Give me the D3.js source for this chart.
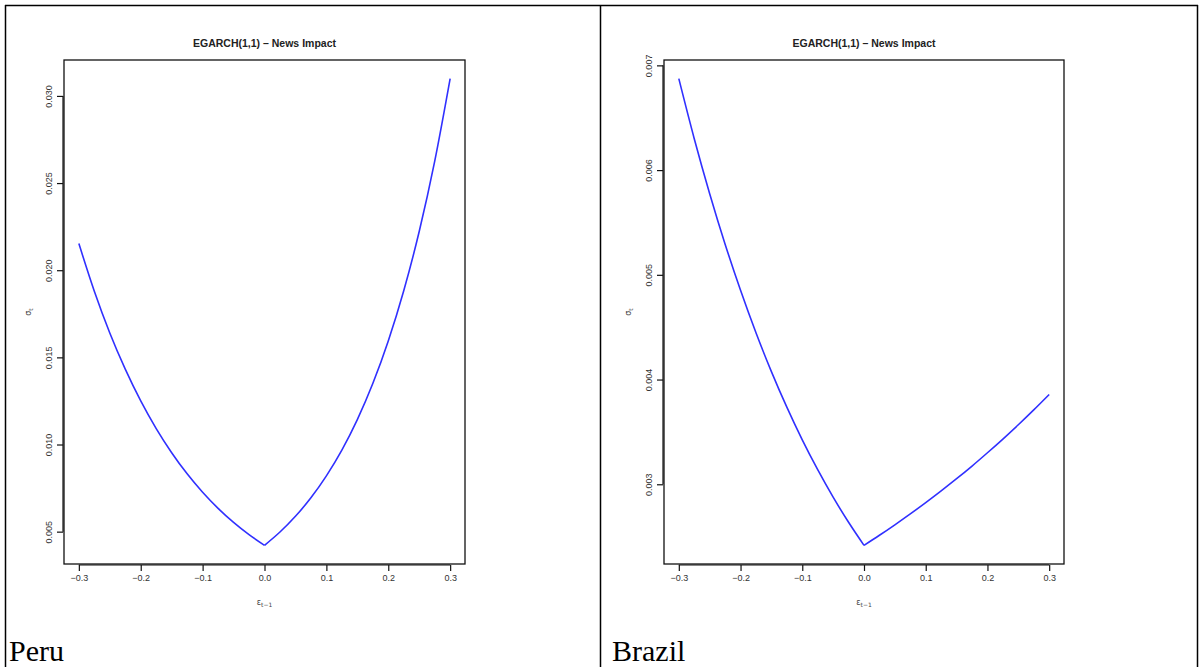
<!DOCTYPE html>
<html>
<head>
<meta charset="utf-8">
<script src="https://cdn.jsdelivr.net/npm/d3@7"></script>
<style>
  html, body { margin: 0; padding: 0; background: #fff; }
  svg { display: block; }
</style>
</head>
<body>
<svg id="chart" width="1203" height="667"></svg>
<script>
// ---- data ----
const shockGrid = [-0.3, -0.275, -0.25, -0.225, -0.2, -0.175, -0.15, -0.125, -0.1, -0.075, -0.05, -0.025, 0,
                   0.025, 0.05, 0.075, 0.1, 0.125, 0.15, 0.175, 0.2, 0.225, 0.25, 0.275, 0.3];
const peruSigma = [0.02153, 0.018795, 0.01640, 0.014322, 0.01250, 0.010913, 0.00953, 0.008316, 0.00726, 0.006337, 0.00553, 0.004829, 0.004215,
                   0.004978, 0.00588, 0.006941, 0.00820, 0.009678, 0.01143, 0.013496, 0.01594, 0.01882, 0.02222, 0.02624, 0.03099];
const brazilSigma = [0.006873, 0.006300, 0.005775, 0.005293, 0.004852, 0.004447, 0.004076, 0.003736, 0.003424, 0.003139, 0.002877, 0.002637, 0.002417,
                     0.002513, 0.002613, 0.002717, 0.002825, 0.002937, 0.003053, 0.003174, 0.003301, 0.003432, 0.003568, 0.003710, 0.003857];
const xTickValues = [-0.3, -0.2, -0.1, 0.0, 0.1, 0.2, 0.3];
const peruYTicks = [0.005, 0.010, 0.015, 0.020, 0.025, 0.030];
const brazilYTicks = [0.003, 0.004, 0.005, 0.006, 0.007];
const chartTitle = "EGARCH(1,1) \u2013 News Impact";
const panelNames = ["Peru", "Brazil"];

const svg = d3.select("#chart");

// table frame
const frame = svg.append("g").attr("stroke", "#000").attr("stroke-width", 1.5).attr("fill", "none");
frame.append("line").attr("x1", 5).attr("y1", 5.5).attr("x2", 1198).attr("y2", 5.5);
frame.append("line").attr("x1", 5.5).attr("y1", 5).attr("x2", 5.5).attr("y2", 667);
frame.append("line").attr("x1", 600.5).attr("y1", 5).attr("x2", 600.5).attr("y2", 667);
frame.append("line").attr("x1", 1197.5).attr("y1", 5).attr("x2", 1197.5).attr("y2", 667);

function pad(ext) { const d = (ext[1] - ext[0]) * 0.04; return [ext[0] - d, ext[1] + d]; }

function panel(cfg) {
  const g = svg.append("g");
  const left = cfg.left, right = cfg.right, top = 60, bottom = 564;
  const x = d3.scaleLinear().domain(pad(d3.extent(shockGrid))).range([left, right]);
  const y = d3.scaleLinear().domain(pad(d3.extent(cfg.values))).range([bottom, top]);
  const pts = shockGrid.map((s, i) => [s, cfg.values[i]]);
  const line = d3.line().x(d => x(d[0])).y(d => y(d[1])).curve(d3.curveMonotoneX);
  const leftPts = pts.filter(d => d[0] <= 0);
  const rightPts = pts.filter(d => d[0] >= 0);
  [leftPts, rightPts].forEach(p => {
    g.append("path").attr("d", line(p)).attr("fill", "none")
      .attr("stroke", "#3030ff").attr("stroke-width", 1.6).attr("stroke-linejoin", "round");
  });

  // box
  g.append("rect").attr("x", left).attr("y", top).attr("width", right - left).attr("height", bottom - top)
    .attr("fill", "none").attr("stroke", "#111").attr("stroke-width", 1.3);

  const fmtX = d3.format(".1f");
  const xAxis = d3.axisBottom(x).tickValues(xTickValues).tickSize(6).tickPadding(4).tickFormat(fmtX);
  const xa = g.append("g").attr("transform", `translate(0,${bottom + 1})`).call(xAxis);
  xa.select(".domain").attr("d", `M${x(xTickValues[0])},0H${x(xTickValues[xTickValues.length - 1])}`)
    .attr("stroke", "#111").attr("stroke-width", 1.2);
  xa.selectAll(".tick line").attr("stroke", "#111").attr("stroke-width", 1.2);
  xa.selectAll("text").attr("font-family", "Liberation Sans, Arial, sans-serif").attr("font-size", 9).attr("fill", "#333");

  const fmtY = d3.format(cfg.yfmt);
  const yAxis = d3.axisLeft(y).tickValues(cfg.yticks).tickSize(6).tickFormat(fmtY);
  const ya = g.append("g").attr("transform", `translate(${left - 1},0)`).call(yAxis);
  ya.select(".domain").attr("d", `M0,${y(cfg.yticks[0])}V${y(cfg.yticks[cfg.yticks.length - 1])}`)
    .attr("stroke", "#111").attr("stroke-width", 1.2);
  ya.selectAll(".tick line").attr("stroke", "#111").attr("stroke-width", 1.2);
  ya.selectAll("text")
    .attr("x", null).attr("dy", null)
    .attr("transform", "translate(-11,0) rotate(-90)")
    .attr("text-anchor", "middle")
    .attr("font-family", "Liberation Sans, Arial, sans-serif").attr("font-size", 9).attr("fill", "#333");

  const cx = (left + right) / 2;
  g.append("text").attr("x", cx).attr("y", 47).attr("text-anchor", "middle")
    .attr("font-family", "Liberation Sans, Arial, sans-serif").attr("font-weight", "bold")
    .attr("font-size", 10.5).attr("fill", "#222").text(chartTitle);

  // x title
  const xt = g.append("text").attr("x", cx).attr("y", 605).attr("text-anchor", "middle")
    .attr("font-family", "DejaVu Sans, sans-serif").attr("font-size", 8).attr("fill", "#444");
  xt.append("tspan").text("\u03b5");
  xt.append("tspan").attr("font-size", 6).attr("dy", 2).text("t\u22121");

  // y title
  const yt = g.append("text").attr("transform", `translate(${left - 33},${(top + bottom) / 2}) rotate(-90)`)
    .attr("text-anchor", "middle")
    .attr("font-family", "DejaVu Sans, sans-serif").attr("font-size", 8).attr("fill", "#444");
  yt.append("tspan").text("\u03c3");
  yt.append("tspan").attr("font-size", 6).attr("dy", 2).text("t");

  svg.append("text").attr("x", cfg.labelX).attr("y", 661)
    .attr("font-family", "Liberation Serif, Times New Roman, serif").attr("font-size", 30).attr("fill", "#000")
    .text(cfg.name);
}

panel({ left: 64, right: 465, values: peruSigma, yticks: peruYTicks, yfmt: ".3f", labelX: 9, name: panelNames[0] });
panel({ left: 664, right: 1064, values: brazilSigma, yticks: brazilYTicks, yfmt: ".3f", labelX: 612, name: panelNames[1] });
</script>
</body>
</html>
